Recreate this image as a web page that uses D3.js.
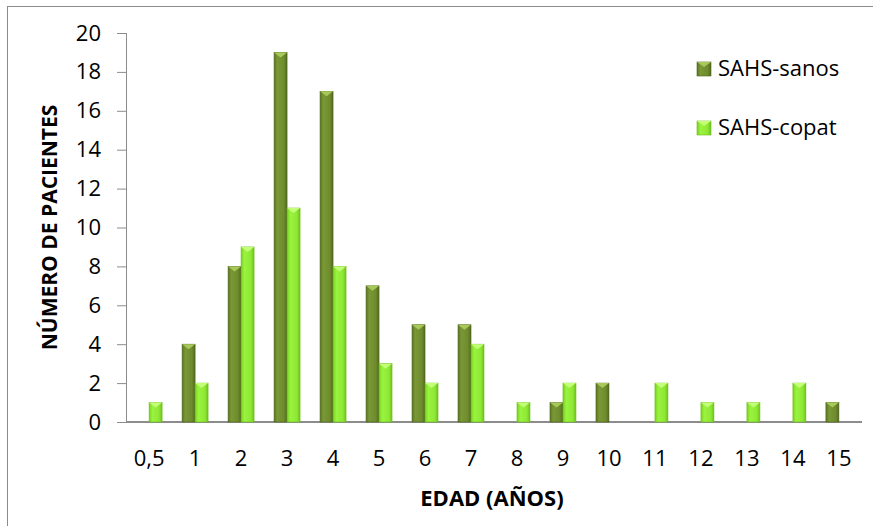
<!DOCTYPE html>
<html>
<head>
<meta charset="utf-8">
<script src="https://cdn.jsdelivr.net/npm/d3@7"></script>
<style>
  body { margin: 0; background: #fff; }
  text { font-family: "Open Sans", "Noto Sans", sans-serif; fill: #000; }
</style>
</head>
<body>
<div id="chart-area"></div>
<script>
var ages = ["0,5", "1", "2", "3", "4", "5", "6", "7", "8", "9", "10", "11", "12", "13", "14", "15"];
var sanos = [0, 4, 8, 19, 17, 7, 5, 5, 0, 1, 2, 0, 0, 0, 0, 1];
var copat = [1, 2, 9, 11, 8, 3, 2, 4, 1, 2, 0, 2, 1, 1, 2, 0];
var seriesNames = ["SAHS-sanos", "SAHS-copat"];
var yTicks = [0, 2, 4, 6, 8, 10, 12, 14, 16, 18, 20];

var width = 873, height = 526;
var margin = { left: 126, right: 11, top: 33, bottom: 104 };

var svg = d3.select("#chart-area").append("svg")
    .attr("width", width)
    .attr("height", height);

// outer frame
svg.append("rect")
    .attr("x", 7.5).attr("y", 6.5)
    .attr("width", 880).attr("height", 540)
    .attr("fill", "none")
    .attr("stroke", "#8c8c8c")
    .attr("stroke-width", 1);

var defs = svg.append("defs");
function makeGradient(id, stops) {
    var g = defs.append("linearGradient").attr("id", id)
        .attr("x1", "0%").attr("x2", "100%").attr("y1", "0%").attr("y2", "0%");
    stops.forEach(function (s) {
        g.append("stop").attr("offset", s[0]).attr("stop-color", s[1]);
    });
}
makeGradient("grad-sanos", [["0%", "#5b7624"], ["25%", "#7a9835"], ["75%", "#6f8c2e"], ["100%", "#52691f"]]);
makeGradient("grad-copat", [["0%", "#78d020"], ["25%", "#9af33e"], ["75%", "#8ee835"], ["100%", "#70c21c"]]);

var x = d3.scaleBand()
    .domain(ages)
    .range([margin.left, width - margin.right])
    .paddingInner(0.435)
    .paddingOuter(0.22);

var xs = d3.scaleBand()
    .domain(seriesNames)
    .range([0, x.bandwidth()]);

var y = d3.scaleLinear()
    .domain([0, 20])
    .range([height - margin.bottom, margin.top]);

// y axis
var yAxis = svg.append("g")
    .attr("transform", "translate(" + margin.left + ",0)")
    .call(d3.axisLeft(y).tickValues(yTicks).tickSize(9).tickPadding(16));
yAxis.select(".domain").attr("stroke", "#8c8c8c").attr("d", "M0.5," + margin.top + "V" + y(0));
yAxis.selectAll(".tick line").attr("stroke", "#8c8c8c");
yAxis.selectAll(".tick text")
    .style("font-size", "22px");

// x axis
var xAxis = svg.append("g")
    .attr("transform", "translate(0," + y(0) + ")")
    .call(d3.axisBottom(x).tickSize(0).tickPadding(28));
xAxis.select(".domain").attr("stroke", "#8c8c8c").attr("stroke-width", 2)
    .attr("d", "M" + margin.left + ",0H" + (width - margin.right));
xAxis.selectAll(".tick text")
    .style("font-size", "22px");

var colors = { "SAHS-sanos": "url(#grad-sanos)", "SAHS-copat": "url(#grad-copat)" };
var tops = { "SAHS-sanos": "#a9c85a", "SAHS-copat": "#c4ff78" };
var edges = { "SAHS-sanos": "#4e651c", "SAHS-copat": "#6cbd1a" };

var rows = [];
ages.forEach(function (a, i) {
    rows.push({ age: a, key: "SAHS-sanos", value: sanos[i] });
    rows.push({ age: a, key: "SAHS-copat", value: copat[i] });
});
rows = rows.filter(function (d) { return d.value > 0; });

var bars = svg.append("g").selectAll("g")
    .data(rows)
    .enter().append("g");

bars.append("rect")
    .attr("x", function (d) { return x(d.age) + xs(d.key); })
    .attr("y", function (d) { return y(d.value); })
    .attr("width", xs.bandwidth())
    .attr("height", function (d) { return y(0) - y(d.value); })
    .attr("fill", function (d) { return colors[d.key]; })
    .attr("stroke", function (d) { return edges[d.key]; })
    .attr("stroke-width", 0.6);

// bevel top triangle
bars.append("path")
    .attr("d", function (d) {
        var x0 = x(d.age) + xs(d.key), w = xs.bandwidth(), y0 = y(d.value);
        return "M" + x0 + "," + y0 + "H" + (x0 + w) + "L" + (x0 + w / 2) + "," + (y0 + 5) + "Z";
    })
    .attr("fill", function (d) { return tops[d.key]; });

// axis titles
svg.append("text")
    .attr("transform", "translate(57," + ((y(0) + y(20)) / 2) + ") rotate(-90)")
    .attr("text-anchor", "middle")
    .style("font-size", "21px")
    .style("font-weight", "bold")
    .text("NÚMERO DE PACIENTES");

svg.append("text")
    .attr("x", 492)
    .attr("y", 506)
    .attr("text-anchor", "middle")
    .style("font-size", "22px")
    .style("font-weight", "bold")
    .text("EDAD (AÑOS)");

// legend
var legend = svg.append("g").selectAll("g")
    .data(seriesNames)
    .enter().append("g")
    .attr("transform", function (d, i) { return "translate(697," + (62 + i * 59) + ")"; });
legend.append("rect")
    .attr("width", 14).attr("height", 14)
    .attr("fill", function (d) { return colors[d]; })
    .attr("stroke", function (d) { return edges[d]; })
    .attr("stroke-width", 0.6);
legend.append("path")
    .attr("d", "M0,0H14L7,5Z")
    .attr("fill", function (d) { return tops[d]; });
legend.append("text")
    .attr("x", 21)
    .attr("y", 14)
    .style("font-size", "22px")
    .text(function (d) { return d; });
</script>
</body>
</html>
